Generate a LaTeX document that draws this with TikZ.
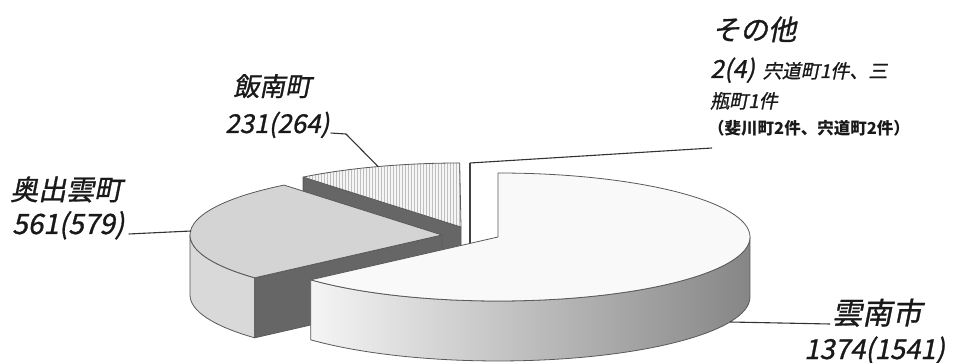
\documentclass[tikz,border=0pt]{standalone}
\usepackage{fontspec}
\usetikzlibrary{patterns}
\newfontfamily\jp[FakeSlant=0.2, FakeBold=1]{Noto Sans CJK JP}
\newfontfamily\jpup{Noto Sans CJK JP}
\tikzset{
  outl/.style={draw=black!65, line width=0.8pt, line join=round},
  lead/.style={draw=black!80, line width=1.1pt},
  lbl/.style={inner sep=0pt, anchor=base west, text=black!90, font=\jp},
}
\begin{document}
\begin{tikzpicture}[x=1pt,y=-1pt]
\fill[white] (0,0) rectangle (963,363);
\useasboundingbox (0,0) rectangle (963,363);

% ---- 飯南町 slice (back)
\coordinate (Ic) at (461,227);
\draw[outl, fill=black!60] (Ic) -- ++(-157.9,-49.9) -- ++(0,60) -- ++(157.9,49.9) -- cycle;
\draw[outl, preaction={fill=gray!8}, pattern=vertical lines, pattern color=gray!50]
  (Ic) -- ++(-157.9,-49.9) arc[start angle=-128.8, end angle=-90.3, x radius=252, y radius=64] -- cycle;

% ---- その他 sliver
\coordinate (St) at (470,163);
\coordinate (Sb) at (470,287);
\draw[black!75, line width=1.3pt] (St) -- (Sb);

% ---- 奥出雲町 slice
\coordinate (Oc) at (442,235);
\draw[outl, fill=gray!30] (190,235) arc[start angle=180, end angle=138, x radius=252, y radius=64]
  -- ++(0,60) arc[start angle=138, end angle=180, x radius=252, y radius=64] -- cycle;
\draw[outl, fill=black!60] (Oc) -- ++(-187.3,42.8) -- ++(0,60) -- ++(187.3,-42.8) -- cycle;
\draw[outl, fill=gray!34] (Oc) -- ++(-187.3,42.8)
  arc[start angle=138, end angle=231.2, x radius=252, y radius=64] -- cycle;

% ---- 雲南市 slice (front)
\coordinate (Bc) at (498,237);
\draw[outl, left color=gray!8, middle color=gray!45, right color=gray!95]
  (310.7,279.8) arc[start angle=138, end angle=0, x radius=252, y radius=64]
  -- ++(0,60) arc[start angle=0, end angle=138, x radius=252, y radius=64] -- cycle;
\draw[outl, fill=gray!5] (Bc) -- (498,173)
  arc[start angle=-90, end angle=138, x radius=252, y radius=64] -- cycle;

% ---- labels
\node[lbl] (t1) at (712,40) {\fontsize{28}{28}\selectfont その他};
\node[lbl] (t2) at (710,78) {\fontsize{25}{25}\selectfont 2(4)\hspace{8pt}\fontsize{19}{19}\selectfont 宍道町1件、三};
\node[lbl] (t3) at (710,108) {\fontsize{19}{19}\selectfont 瓶町1件};
\node[lbl, font=\jpup] (t4) at (708,135) {\bfseries\fontsize{16.5}{16.5}\selectfont （斐川町2件、宍道町2件）};

\node[lbl] (n1) at (233,96) {\fontsize{26}{26}\selectfont 飯南町};
\node[lbl] (n2) at (225,133) {\fontsize{26}{26}\selectfont 231(264)};
\node[lbl] (n3) at (10,200) {\fontsize{28}{28}\selectfont 奥出雲町};
\node[lbl] (n4) at (12,234) {\fontsize{28}{28}\selectfont 561(579)};
\node[lbl] (n5) at (832,324) {\fontsize{30}{30}\selectfont 雲南市};
\node[lbl] (n6) at (804,359) {\fontsize{27.5}{27.5}\selectfont 1374(1541)};

% ---- leaders
\coordinate (Sl) at (712,148);
\draw[lead] (St) -- (Sl);
\coordinate (Ik) at (346,134);
\coordinate (Ia) at (378,166.5);
\draw[lead] ([xshift=1pt]n2.base east) -- (Ik) -- (Ia);
\coordinate (Oa) at (191,231);
\draw[lead] ([xshift=4pt]n4.base east) -- (Oa);
\coordinate (Ba) at (730,322);
\draw[lead] (Ba) -- ([xshift=-2pt]n5.base west);
\end{tikzpicture}
\end{document}
